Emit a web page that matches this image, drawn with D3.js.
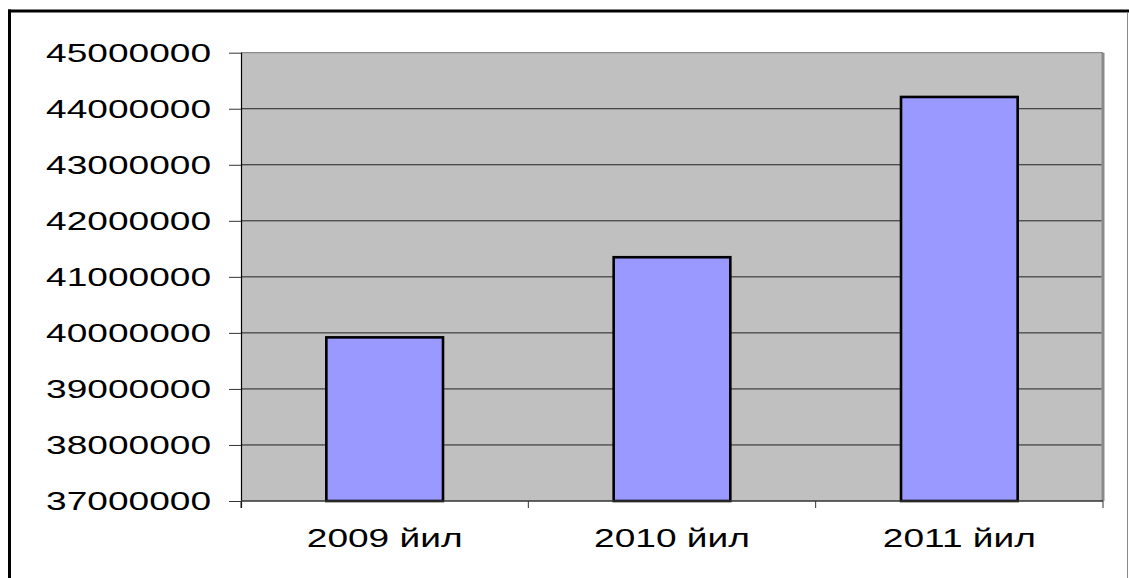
<!DOCTYPE html>
<html><head><meta charset="utf-8">
<script src="https://cdn.jsdelivr.net/npm/d3@7"></script>
<style>html,body{margin:0;padding:0;background:#fff;}svg{display:block;}</style>
</head><body>
<svg id="c" width="1129" height="578"></svg>
<script>
const categories = ["2009 йил", "2010 йил", "2011 йил"];
const values = [39920000, 41350000, 44210000];
const yTicks = [37000000, 38000000, 39000000, 40000000, 41000000, 42000000, 43000000, 44000000, 45000000];

const svg = d3.select("#c");
const L = 241, R = 1103, T = 52.7, B = 501;
const x = d3.scaleBand().domain(categories).range([L, R]).padding(0);
const y = d3.scaleLinear().domain([37000000, 45000000]).range([B, T]);
const font = "Arial, 'Liberation Sans', sans-serif";
const fs = 25;

// measure natural width to match the reference's horizontally stretched text
const probe = svg.append("text").attr("font-family",font).attr("font-size",fs).text("45000000");
const natural = probe.node().getComputedTextLength();
probe.remove();
const sx = 165 / natural;

// outer frame
svg.append("line").attr("x1",8).attr("x2",1129).attr("y1",11).attr("y2",11).attr("stroke","#000").attr("stroke-width",3);
svg.append("line").attr("x1",9.5).attr("x2",9.5).attr("y1",9.5).attr("y2",578).attr("stroke","#000").attr("stroke-width",3);
svg.append("line").attr("x1",1127.5).attr("x2",1127.5).attr("y1",12).attr("y2",578).attr("stroke","#888").attr("stroke-width",1);

// plot area
svg.append("rect").attr("x",L).attr("y",T).attr("width",R-L).attr("height",B-T).attr("fill","#c0c0c0");
svg.append("line").attr("x1",L).attr("x2",R).attr("y1",T).attr("y2",T).attr("stroke","#8a8a8a").attr("stroke-width",1.2);
svg.append("line").attr("x1",R).attr("x2",R).attr("y1",T).attr("y2",B).attr("stroke","#8a8a8a").attr("stroke-width",3);

// gridlines
svg.append("g").selectAll("line").data(yTicks.slice(1, -1)).join("line")
  .attr("x1",L).attr("x2",R-1.5).attr("y1",d=>y(d)).attr("y2",d=>y(d))
  .attr("stroke","#222").attr("stroke-width",1);

// bars
const bw = x.bandwidth()*0.406;
svg.append("g").selectAll("rect").data(values).join("rect")
  .attr("x",(d,i)=>x(categories[i]) + (x.bandwidth()-bw)/2)
  .attr("y",d=>y(d))
  .attr("width",bw)
  .attr("height",d=>B - y(d))
  .attr("fill","#9999ff").attr("stroke","#000").attr("stroke-width",2.6);

// y axis
const yAxis = svg.append("g").attr("transform",`translate(${L},0)`)
  .call(d3.axisLeft(y).tickValues(yTicks).tickSize(12).tickFormat(""));
yAxis.select(".domain").attr("stroke","#000").attr("stroke-width",1.2).attr("d",`M0.5,${T}V${B+7}`);
yAxis.selectAll(".tick line").attr("stroke","#333").attr("stroke-width",1);

svg.append("g").selectAll("text").data(yTicks).join("text")
  .attr("transform",d=>`translate(211,${y(d)+9.3}) scale(${sx},1)`)
  .attr("text-anchor","end").attr("font-family",font).attr("font-size",fs).attr("fill","#000")
  .text(d=>d3.format("d")(d));

// x axis
const xb = d3.scaleOrdinal().domain([0,1,2,3]).range([L, x(categories[1]), x(categories[2]), R]);
const xAxisG = svg.append("g");
xAxisG.append("line").attr("x1",L).attr("x2",R).attr("y1",B).attr("y2",B).attr("stroke","#333").attr("stroke-width",1.5);
xAxisG.selectAll("line.t").data([0,1,2,3]).join("line").attr("class","t")
  .attr("x1",d=>xb(d)).attr("x2",d=>xb(d)).attr("y1",B).attr("y2",B+7).attr("stroke","#333").attr("stroke-width",1);

svg.append("g").selectAll("text").data(categories).join("text")
  .attr("transform",d=>`translate(${x(d)+x.bandwidth()/2},${546.7}) scale(${sx},1)`)
  .attr("text-anchor","middle").attr("font-family",font).attr("font-size",fs).attr("fill","#000")
  .text(d=>d);
</script>
</body></html>
